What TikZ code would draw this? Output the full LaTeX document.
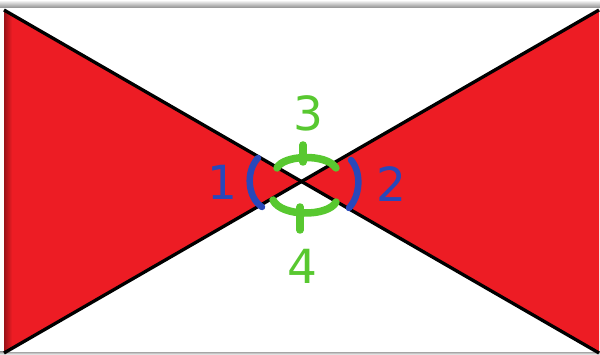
\documentclass[tikz,border=0pt]{standalone}
\usepackage{fontspec}
\setsansfont{DejaVu Sans}
\usepackage{tikz}
\usetikzlibrary{calc}
\definecolor{flagred}{RGB}{237,28,36}
\definecolor{markgreen}{RGB}{88,200,48}
\definecolor{markblue}{RGB}{40,72,186}

\begin{document}
\begin{tikzpicture}[
    x=1pt, y=-1pt,
    num/.style={font=\sffamily\fontsize{47}{49}\selectfont, inner sep=0pt},
    greennum/.style={num, text=markgreen},
    bluenum/.style={num, text=markblue},
    greenmark/.style={draw=markgreen, line width=7.5pt, line cap=round},
    bluemark/.style={draw=markblue, line width=6.5pt, line cap=round},
    diag/.style={draw=black, line width=3.3pt}
]
    \useasboundingbox (0,0) rectangle (600,355);

    % Shadow round the sheet
    \shade[top color=white, bottom color=black!45] (0,0) rectangle (600,8);
    \shade[top color=black!35, bottom color=white] (0,352) rectangle (600,355);
    \fill[white] (4,8) rectangle (599,352);

    % Corners and centre
    \coordinate (tl) at (4,10);
    \coordinate (tr) at (599,10);
    \coordinate (bl) at (4,353);
    \coordinate (br) at (599,353);
    \coordinate (c) at ($(tl)!0.5!(br)$);

    % Red triangles
    \fill[flagred] (tl) -- (c) -- (bl) -- cycle;
    \fill[flagred] (tr) -- (c) -- (br) -- cycle;
    \begin{scope}
        \clip (tl) -- (c) -- (bl) -- cycle;
        \shade[left color=black!35!flagred, right color=flagred] (4,8) rectangle (12,353);
    \end{scope}

    % Diagonals
    \draw[diag] (tl) -- (br);
    \draw[diag] (tr) -- (bl);

    % Green marks
    \draw[greenmark] (277,168) .. controls (283,155) and (326,153) .. (336,168);
    \draw[greenmark] (273,200) .. controls (281,217) and (328,217) .. (336,202);
    \draw[greenmark] (303,145) -- (303,162);
    \draw[greenmark] (300,207) -- (300,230);

    % Blue marks
    \draw[bluemark] (258,158) .. controls (245,172) and (248,198) .. (262,207);
    \draw[bluemark] (351,160) .. controls (362,173) and (360,196) .. (349,208);

    % Labels
    \node[greennum] (three) at (308,113) {3};
    \node[greennum] (four) at (302,266) {4};
    \node[bluenum] (one) at (222,182) {1};
    \node[bluenum] (two) at (391,184) {2};
\end{tikzpicture}
\end{document}
